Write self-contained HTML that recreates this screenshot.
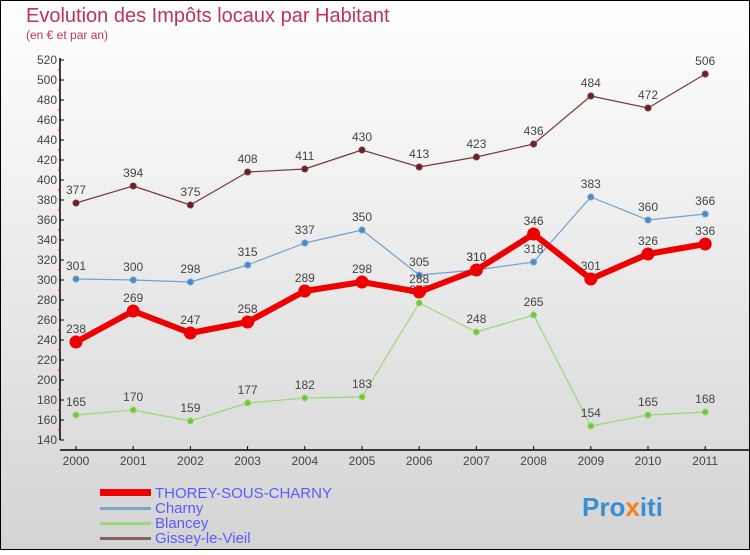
<!DOCTYPE html>
<html><head><meta charset="utf-8"><style>
body{margin:0;}
#c{width:750px;height:550px;position:relative;font-family:"Liberation Sans",sans-serif;}
</style></head><body>
<div id="c">
<svg id="s" width="750" height="550" xmlns="http://www.w3.org/2000/svg">
<defs><linearGradient id="bg" x1="0" y1="0" x2="0" y2="1"><stop offset="0" stop-color="#ffffff"/><stop offset="1" stop-color="#d4d4d4"/></linearGradient></defs>
<rect x="0.5" y="0.5" width="749" height="549" fill="url(#bg)" stroke="#000"/>
<text x="26" y="22" font-size="20" fill="#c0325e">Evolution des Impôts locaux par Habitant</text>
<text x="26" y="39" font-size="12" fill="#c0325e">(en € et par an)</text>
<g id="axes"></g><g id="series"></g>
<g>
<rect x="100" y="489" width="51" height="7" fill="#e00"/>
<text x="155" y="498" font-size="15" fill="#5a5aff">THOREY-SOUS-CHARNY</text>
<rect x="100" y="507" width="51" height="3" fill="#7aa6c8"/>
<text x="155" y="513" font-size="15" fill="#5a5aff">Charny</text>
<rect x="100" y="522" width="51" height="3" fill="#98d878"/>
<text x="155" y="528" font-size="15" fill="#5a5aff">Blancey</text>
<rect x="100" y="537" width="51" height="3" fill="#8a6060"/>
<text x="155" y="543" font-size="15" fill="#5a5aff">Gissey-le-Vieil</text>
</g>
<text x="582" y="516" font-size="26" font-weight="bold" fill="#3a8fd0">Pro<tspan fill="#f08020">x</tspan>iti</text>
</svg>
</div>
<script>
const years=[2000,2001,2002,2003,2004,2005,2006,2007,2008,2009,2010,2011];
const thorey=[238,269,247,258,289,298,288,310,346,301,326,336];
const charny=[301,300,298,315,337,350,305,310,318,383,360,366];
const blancey=[165,170,159,177,182,183,277,248,265,154,165,168];
const gissey=[377,394,375,408,411,430,413,423,436,484,472,506];
const yTicks=[140,160,180,200,220,240,260,280,300,320,340,360,380,400,420,440,460,480,500,520];
const NS="http://www.w3.org/2000/svg";
const X=i=>76+i*57.2, Y=v=>60+(520-v);
function mk(t,a,p){const e=document.createElementNS(NS,t);for(const k in a)e.setAttribute(k,a[k]);p.appendChild(e);return e;}
const ax=document.getElementById('axes');
const yl=mk('line',{x1:60,y1:58,x2:60,y2:440,stroke:'#000','stroke-width':1.5},ax);

const xl=mk('line',{x1:60,y1:450,x2:750,y2:450,stroke:'#000','stroke-width':1.5},ax);

yTicks.forEach(v=>{
 mk('line',{x1:60,y1:Y(v),x2:64,y2:Y(v),stroke:'#000'},ax);
 if(v<520)mk('line',{x1:58,y1:Y(v+10),x2:61,y2:Y(v+10),stroke:'#e00'},ax);
 const t=mk('text',{x:57,y:Y(v)+4,'font-size':12,'text-anchor':'end',fill:'#444'},ax);t.textContent=v;
 
});
years.forEach((y,i)=>{
 mk('line',{x1:X(i),y1:446,x2:X(i),y2:450,stroke:'#000'},ax);
 const t=mk('text',{x:X(i),y:465,'font-size':12,'text-anchor':'middle',fill:'#444'},ax);t.textContent=y;
 
});
const sg=document.getElementById('series');
function series(d,name,col,dot,w,r){
 const g=mk('g',{},sg);
 const p=mk('polyline',{points:d.map((v,i)=>X(i)+','+Y(v)).join(' '),fill:'none',stroke:col,'stroke-width':w,'stroke-linejoin':'round'},g);
 
 d.forEach((v,i)=>{
  const c=mk('circle',{cx:X(i),cy:Y(v),r:r,fill:dot,stroke:col,'stroke-width':1},g);
  
  const t=mk('text',{x:X(i),y:Y(v)-9,'font-size':12,'text-anchor':'middle',fill:'#444'},g);t.textContent=v;
  
 });
}
series(gissey,'gissey','#7a3838','#6a2028',1.2,3);
series(charny,'charny','#6fa2d0','#4a8ac8',1.2,3);
series(blancey,'blancey','#9ad878','#70c838',1.2,3);
series(thorey,'thorey','#ee0000','#ee0000',6,6);
</script>
</body></html>
